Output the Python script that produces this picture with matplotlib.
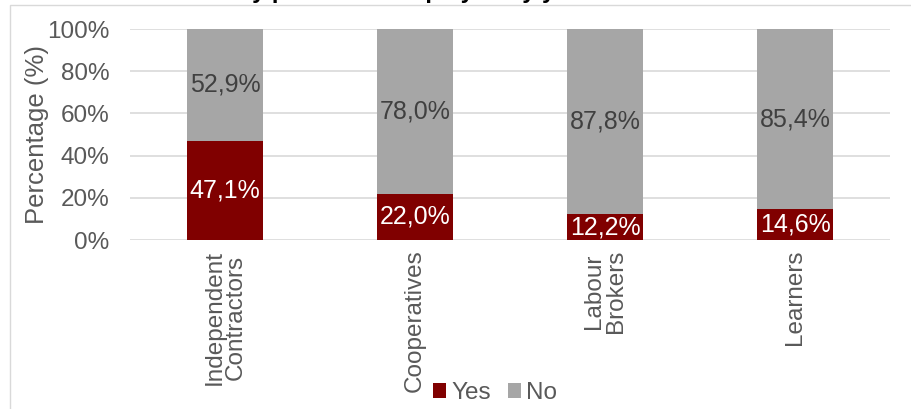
import matplotlib.pyplot as plt
from matplotlib.patches import Rectangle

categories = ["Independent\nContractors", "Cooperatives", "Labour\nBrokers", "Learners"]
yes_vals = [47.1, 22.0, 12.2, 14.6]
no_vals = [52.9, 78.0, 87.8, 85.4]
y_ticks = [0, 20, 40, 60, 80, 100]

RED = "#800000"
GREY = "#A6A6A6"
TXT = "#595959"

plt.rcParams["font.family"] = ["Liberation Sans", "DejaVu Sans"]

fig = plt.figure(figsize=(9.11, 4.09), dpi=100)
ax = fig.add_axes([130 / 911, 1 - 240 / 409, 760 / 911, 211 / 409])

# outer chart frame (partly cut off, as in the reference)
fig.patches.append(Rectangle((10 / 911, -0.05), 1.1, 1 - 5 / 409 + 0.05,
                             transform=fig.transFigure, fill=False,
                             edgecolor="#D9D9D9", linewidth=1))
# clipped title from the page above
fig.text(0.0, 1 + 2 / 409, "on whether the security personnel employed by you are to",
         fontsize=17, fontweight="bold", color="black", va="baseline", ha="left")

x = range(len(categories))
b1 = ax.bar(x, yes_vals, width=0.4, color=RED, label="Yes", zorder=3)
b2 = ax.bar(x, no_vals, width=0.4, bottom=yes_vals, color=GREY, label="No", zorder=3)

ax.bar_label(b1, labels=[f"{v:.1f}%".replace(".", ",") for v in yes_vals],
             label_type="center", color="white", fontsize=18)
ax.bar_label(b2, labels=[f"{v:.1f}%".replace(".", ",") for v in no_vals],
             label_type="center", color="#404040", fontsize=18)

ax.set_xlim(-0.5, 3.5)
ax.set_ylim(0, 100)
ax.set_yticks(y_ticks)
ax.set_yticklabels([f"{t}%" for t in y_ticks])
ax.yaxis.grid(True, color="#D9D9D9", linewidth=1.2, zorder=0)
ax.tick_params(axis="y", length=0, labelsize=17.5, labelcolor=TXT, pad=15)
ax.set_xticks(list(x))
ax.set_xticklabels(categories, rotation=90, va="top", ha="center",
                   fontsize=17.5, color=TXT, linespacing=0.95)
ax.tick_params(axis="x", length=0, pad=7)
for s in ax.spines.values():
    s.set_visible(False)
ax.set_ylabel("Percentage (%)", fontsize=18.5, color=TXT)
ax.yaxis.set_label_coords(-0.107, 0.5)

fig.legend(loc="center", bbox_to_anchor=(495 / 911, 1 - 393 / 409), ncol=2,
           frameon=False, fontsize=17.5, labelcolor=TXT, handlelength=0.55,
           handleheight=0.55, handletextpad=0.2, columnspacing=0.7)

fig.savefig("out.png", dpi=100)
